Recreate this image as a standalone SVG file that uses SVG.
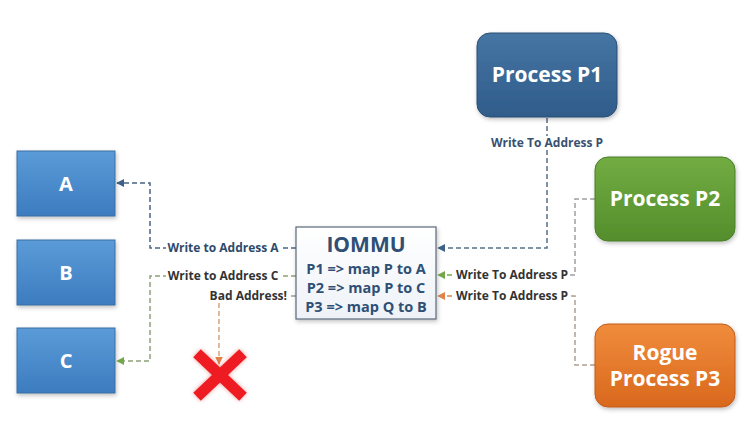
<svg xmlns="http://www.w3.org/2000/svg" width="750" height="426" viewBox="0 0 750 426">
<style>
.lbl{font-family:"Open Sans","Liberation Sans",sans-serif;font-weight:bold;font-size:12px;fill:#333}
.nt{font-family:"Open Sans","Liberation Sans",sans-serif;font-weight:bold;fill:#fff;text-anchor:middle}
.io{font-family:"Open Sans","Liberation Sans",sans-serif;font-weight:bold;fill:#2f4f75;text-anchor:middle}
.c{fill:none;stroke-width:1.5;stroke-dasharray:5 3}
</style>
<defs>
<linearGradient id="gB" x1="0" y1="0" x2="0" y2="1"><stop offset="0" stop-color="#5b9bd8"/><stop offset="1" stop-color="#3c7cbf"/></linearGradient>
<linearGradient id="gP1" x1="0" y1="0" x2="0" y2="1"><stop offset="0" stop-color="#4675a3"/><stop offset="1" stop-color="#2f5c8a"/></linearGradient>
<linearGradient id="gP2" x1="0" y1="0" x2="0" y2="1"><stop offset="0" stop-color="#72ac42"/><stop offset="1" stop-color="#548e2c"/></linearGradient>
<linearGradient id="gP3" x1="0" y1="0" x2="0" y2="1"><stop offset="0" stop-color="#f08c3c"/><stop offset="1" stop-color="#d9681d"/></linearGradient>
<linearGradient id="gIO" x1="0" y1="0" x2="0" y2="1"><stop offset="0" stop-color="#ffffff"/><stop offset="1" stop-color="#eef2f7"/></linearGradient>
<filter id="sh" x="-20%" y="-20%" width="140%" height="140%"><feDropShadow dx="1" dy="2" stdDeviation="2" flood-color="#000" flood-opacity="0.25"/></filter>
<filter id="rsh" x="-30%" y="-30%" width="160%" height="160%"><feDropShadow dx="0" dy="0" stdDeviation="2" flood-color="#c00" flood-opacity="0.4"/></filter>
<marker id="aBlue" viewBox="0 0 10 10" refX="9" refY="5" markerWidth="8" markerHeight="8" markerUnits="userSpaceOnUse" orient="auto"><path d="M0,0L10,5L0,10z" fill="#3e6189"/></marker>
<marker id="aGreen" viewBox="0 0 10 10" refX="9" refY="5" markerWidth="8" markerHeight="8" markerUnits="userSpaceOnUse" orient="auto"><path d="M0,0L10,5L0,10z" fill="#74a84a"/></marker>
<marker id="aOrange" viewBox="0 0 10 10" refX="9" refY="5" markerWidth="8" markerHeight="8" markerUnits="userSpaceOnUse" orient="auto"><path d="M0,0L10,5L0,10z" fill="#e0834a"/></marker>
</defs>
<rect width="750" height="426" fill="#fff"/>

<g id="connectors">
<path class="c" stroke="#5a6f88" d="M547,118 V248 H438" marker-end="url(#aBlue)"/>
<path class="c" stroke="#a0a0a0" d="M595,199 H575 V275 H460"/>
<path class="c" stroke="#74a84a" d="M460,275 H438" marker-end="url(#aGreen)"/>
<path class="c" stroke="#b0a090" d="M595,365 H575 V296 H460"/>
<path class="c" stroke="#e0834a" d="M460,296 H438" marker-end="url(#aOrange)"/>
<path class="c" stroke="#4a6685" d="M296,248 H150 V183 H117" marker-end="url(#aBlue)"/>
<path class="c" stroke="#8fa07a" d="M296,276 H150 V361 H117" marker-end="url(#aGreen)"/>
<path class="c" stroke="#999" d="M296,296 H288"/>
<path class="c" stroke="#d9a27a" d="M219,303 V364" marker-end="url(#aOrange)"/>

<rect x="489" y="136" width="118" height="14" fill="#fff"/>
<text class="lbl" x="547" y="147" text-anchor="middle" style="fill:#3a5070">Write To Address P</text>
<rect x="166" y="241" width="114" height="14" fill="#fff"/>
<text class="lbl" x="223" y="252" text-anchor="middle" style="fill:#2e4a6b">Write to Address A</text>
<rect x="166" y="269" width="114" height="14" fill="#fff"/>
<text class="lbl" x="223" y="280" text-anchor="middle">Write to Address C</text>
<text class="lbl" x="287" y="300" text-anchor="end">Bad Address!</text>
<rect x="454" y="268" width="116" height="14" fill="#fff"/>
<text class="lbl" x="512" y="279" text-anchor="middle">Write To Address P</text>
<rect x="454" y="289" width="116" height="14" fill="#fff"/>
<text class="lbl" x="512" y="300" text-anchor="middle">Write To Address P</text>
</g>

<g id="A"><rect x="17" y="151" width="98" height="65" fill="url(#gB)" stroke="#3a6fa3" stroke-width="1" filter="url(#sh)"/><text class="nt" x="66" y="191" font-size="20">A</text></g>
<g id="B"><rect x="17" y="240" width="98" height="65" fill="url(#gB)" stroke="#3a6fa3" stroke-width="1" filter="url(#sh)"/><text class="nt" x="66" y="280" font-size="20">B</text></g>
<g id="C"><rect x="17" y="328" width="98" height="65" fill="url(#gB)" stroke="#3a6fa3" stroke-width="1" filter="url(#sh)"/><text class="nt" x="66" y="368" font-size="20">C</text></g>

<g id="P1"><rect x="477" y="33" width="140" height="84" rx="13" fill="url(#gP1)" stroke="#2b4f75" stroke-width="1" filter="url(#sh)"/><text class="nt" x="547" y="82" font-size="21">Process P1</text></g>
<g id="P2"><rect x="595" y="157" width="140" height="84" rx="13" fill="url(#gP2)" stroke="#4a7d2a" stroke-width="1" filter="url(#sh)"/><text class="nt" x="665" y="206" font-size="21">Process P2</text></g>
<g id="P3"><rect x="595" y="324" width="140" height="83" rx="13" fill="url(#gP3)" stroke="#c05d1c" stroke-width="1" filter="url(#sh)"/><text class="nt" x="665" y="360" font-size="21">Rogue</text><text class="nt" x="665" y="386" font-size="21">Process P3</text></g>

<g id="IOMMU"><rect x="296" y="227" width="140" height="92" fill="url(#gIO)" stroke="#5a6a7a" stroke-width="1.2" filter="url(#sh)"/>
<text class="io" x="366" y="252" font-size="21">IOMMU</text>
<text class="io" x="366" y="274" font-size="14.5">P1 =&gt; map P to A</text>
<text class="io" x="366" y="293" font-size="14.5">P2 =&gt; map P to C</text>
<text class="io" x="366" y="312" font-size="14.5">P3 =&gt; map Q to B</text></g>

<g id="X" filter="url(#rsh)"><path d="M201,357 L239,393 M239,357 L201,393" stroke="#ee1c24" stroke-width="11" stroke-linecap="square"/></g>
</svg>
